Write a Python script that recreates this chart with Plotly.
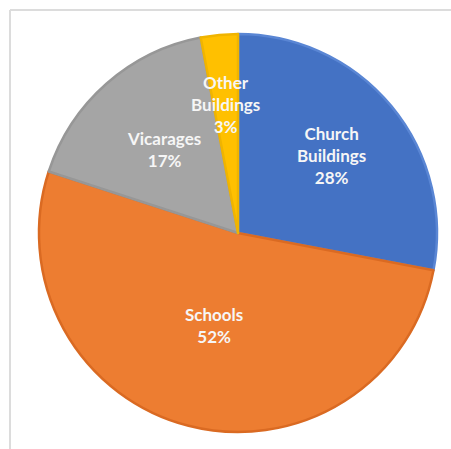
import math
import plotly.graph_objects as go

labels = ["Church<br>Buildings", "Schools", "Vicarages", "Other<br>Buildings"]
values = [28, 52, 17, 3]
colors = ["#4472C4", "#ED7D31", "#A5A5A5", "#FFC000"]
line_colors = ["#5A86D4", "#DA6A22", "#979797", "#F0B400"]
label_radius = [0.61, 0.48, 0.56, 0.65]  # radial placement of labels (fraction of radius)

W, H = 451, 449
cx, cy, r = 238, 233, 199

fig = go.Figure(go.Pie(
    labels=labels,
    values=values,
    sort=False,
    direction="clockwise",
    rotation=0,
    marker=dict(colors=colors, line=dict(color=line_colors, width=2.5)),
    textinfo="none",
    hoverinfo="label+percent",
    showlegend=False,
    domain=dict(x=[(cx - r) / W, (cx + r) / W], y=[(H - cy - r) / H, (H - cy + r) / H]),
))

total = sum(values)
annotations = []
cum = 0
for lab, v, f in zip(labels, values, label_radius):
    mid = (cum + v / 2) / total * 2 * math.pi
    cum += v
    sx = cx + f * r * math.sin(mid)
    sy = cy - f * r * math.cos(mid)
    annotations.append(dict(
        x=sx / W, y=1 - sy / H, xref="paper", yref="paper",
        text=f"{lab}<br>{round(v / total * 100)}%",
        showarrow=False, xanchor="center", yanchor="middle",
        font=dict(family="Lato", size=17, color="#F6F6F6", weight="bold"),
    ))

fig.update_layout(
    width=W, height=H,
    margin=dict(l=0, r=0, t=0, b=0),
    paper_bgcolor="white",
    annotations=annotations,
    shapes=[
        dict(type="line", xref="paper", yref="paper", x0=10 / W, x1=1, y0=1 - 10 / H, y1=1 - 10 / H,
             line=dict(color="#DCDCDC", width=2)),
        dict(type="line", xref="paper", yref="paper", x0=10 / W, x1=10 / W, y0=0, y1=1 - 10 / H,
             line=dict(color="#DCDCDC", width=2)),
    ],
)

fig.write_html("out.html")
